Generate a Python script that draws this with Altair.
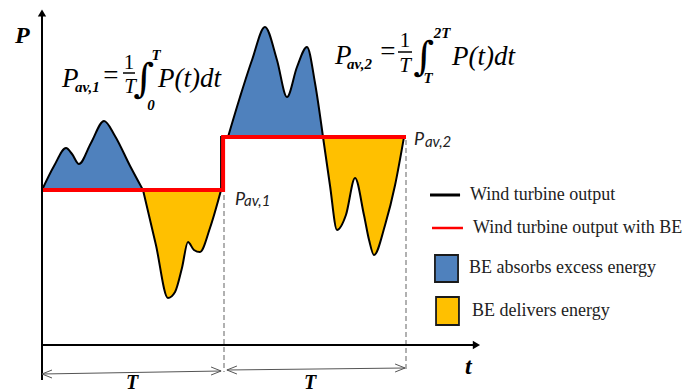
import altair as alt
import pandas as pd

# ---------------- data (t in units of T, P in arbitrary power units) ----------------
P_AV1 = 1.55
P_AV2 = 2.08

blue1_t = [0.0, 0.066, 0.132, 0.165, 0.203, 0.269, 0.341, 0.401, 0.484, 0.555]
blue1_p = [1.55, 1.79, 1.97, 1.91, 1.81, 2.02, 2.24, 2.09, 1.79, 1.55]

yellow1_t = [0.555, 0.626, 0.692, 0.731, 0.769, 0.802, 0.835, 0.868, 0.923, 0.984]
yellow1_p = [1.55, 1.00, 0.47, 0.53, 0.77, 1.03, 0.95, 0.93, 1.17, 1.55]

blue2_t = [1.022, 1.088, 1.154, 1.225, 1.291, 1.346, 1.401, 1.456, 1.500, 1.544]
blue2_p = [2.08, 2.48, 2.85, 3.18, 2.85, 2.48, 2.78, 2.98, 2.62, 2.08]

yellow2_t = [1.544, 1.582, 1.621, 1.670, 1.720, 1.769, 1.797, 1.824, 1.885, 1.940, 1.989]
yellow2_p = [2.08, 1.60, 1.15, 1.30, 1.67, 1.30, 1.05, 0.90, 1.20, 1.60, 2.08]

step_t = [0.984, 0.984, 1.022]
step_p = [1.55, 2.08, 2.08]

red_t = [0.0, 0.995, 0.995, 2.0]
red_p = [P_AV1, P_AV1, P_AV2, P_AV2]

segments = [
    ("b1", "absorb", blue1_t, blue1_p, P_AV1),
    ("y1", "deliver", yellow1_t, yellow1_p, P_AV1),
    ("b2", "absorb", blue2_t, blue2_p, P_AV2),
    ("y2", "deliver", yellow2_t, yellow2_p, P_AV2),
]
rows = []
for seg, kind, ts, ps, base in segments:
    for i, (t, p) in enumerate(zip(ts, ps)):
        rows.append(dict(seg=seg, kind=kind, t=t, P=p, base=base, i=i))
curve = pd.DataFrame(rows)

step = pd.DataFrame(dict(t=step_t, P=step_p, i=range(len(step_t))))
red = pd.DataFrame(dict(t=red_t, P=red_p, i=range(len(red_t))))

# axes (drawn by hand, in data units)
axes_rules = pd.DataFrame(dict(t=[0.0, 0.0], t2=[0.0, 2.387], P=[-0.35, 0.0], P2=[3.32, 0.0]))
arrow_up = pd.DataFrame(dict(t=[0.0], P=[3.32]))
arrow_right = pd.DataFrame(dict(t=[2.387], P=[0.0]))

dash = pd.DataFrame(dict(t=[1.0, 2.0], P=[1.50, 2.05], P2=[-0.27, -0.27]))

# period arrows (shaft + open heads)
per_t = [0.0, 0.0, 0.0, 0.984, 0.984, 1.016, 1.016, 1.016, 1.995, 1.995]
per_p = [-0.29, -0.29, -0.29, -0.26, -0.26, -0.25, -0.25, -0.25, -0.23, -0.23]
per_t2 = [0.984, 0.055, 0.055, 0.929, 0.929, 1.995, 1.071, 1.071, 1.940, 1.940]
per_p2 = [-0.26, -0.25, -0.33, -0.22, -0.30, -0.23, -0.21, -0.29, -0.19, -0.27]
period = pd.DataFrame(dict(t=per_t, P=per_p, t2=per_t2, P2=per_p2))

# legend
leg_lines = pd.DataFrame(dict(t=[2.132, 2.143], t2=[2.297, 2.313], P=[1.50, 1.17],
                              kind=["black", "red"]))
leg_boxes = pd.DataFrame(dict(t=[2.159, 2.165], t2=[2.286, 2.291], P=[0.90, 0.48], P2=[0.63, 0.20],
                              kind=["absorb", "deliver"]))
leg_text = pd.DataFrame(dict(
    t=[2.352, 2.368, 2.346, 2.363],
    P=[1.50, 1.17, 0.77, 0.34],
    label=["Wind turbine output", "Wind turbine output with BE",
           "BE absorbs excess energy", "BE delivers energy"]))

# formula pieces
big_italic = pd.DataFrame(dict(label=["P", "P(t)dt", "P", "P(t)dt"],
                               t=[0.110, 0.637, 1.610, 2.253], P=[2.58, 2.58, 2.81, 2.80]))
sub_bold = pd.DataFrame(dict(label=["av,1", "av,2"], t=[0.181, 1.676], P=[2.53, 2.76]))
equals = pd.DataFrame(dict(label=["=", "="], t=[0.379, 1.901], P=[2.61, 2.85]))
frac_num = pd.DataFrame(dict(label=["1", "1"], t=[0.478, 1.995], P=[2.76, 2.98]))
frac_den = pd.DataFrame(dict(label=["T", "T"], t=[0.484, 1.995], P=[2.52, 2.73]))
frac_bar = pd.DataFrame(dict(t=[0.445, 1.956], t2=[0.511, 2.033], P=[2.72, 2.93]))
integral = pd.DataFrame(dict(label=["∫", "∫"], t=[0.560, 2.098], P=[2.53, 2.75]))
limits = pd.DataFrame(dict(label=["T", "0", "2T", "T"],
                           t=[0.627, 0.599, 2.198, 2.121], P=[2.85, 2.35, 3.07, 2.62]))

pav_main = pd.DataFrame(dict(label=["P", "P"], t=[1.060, 2.044], P=[1.40, 2.00]))
pav_sub = pd.DataFrame(dict(label=["av,1", "av,2"], t=[1.110, 2.104], P=[1.39, 1.98]))

axis_labels = pd.DataFrame(dict(label=["P", "t"], t=[-0.148, 2.324], P=[3.02, -0.29]))
period_labels = pd.DataFrame(dict(label=["T", "T"], t=[0.495, 1.473], P=[-0.44, -0.44]))

# ---------------- chart ----------------
xs = alt.Scale(domain=[-34 / 182, 647 / 182], nice=False, zero=False)
ys = alt.Scale(domain=[-0.47, 3.37], nice=False, zero=False)
X = alt.X("t:Q", scale=xs, axis=None)
Y = alt.Y("P:Q", scale=ys, axis=None)
Y_ns = alt.Y("P:Q", scale=ys, axis=None, stack=None)

SERIF = "Liberation Serif"
BLUE = "#4F81BD"
GOLD = "#FFC000"


def texts(df, **kw):
    return alt.Chart(df).mark_text(**kw).encode(x=X, y=Y, text="label:N")


def fill_layer(kind, color):
    return alt.Chart(curve).transform_filter(alt.datum.kind == kind).mark_area(
        interpolate="monotone", opacity=1, color=color).encode(
        x=X, y=Y_ns, y2="base:Q", detail="seg:N")


areas_b = fill_layer("absorb", BLUE)
areas_y = fill_layer("deliver", GOLD)

lines = alt.Chart(curve).mark_line(interpolate="monotone", color="black", strokeWidth=2).encode(
    x=X, y=Y, detail="seg:N")

step_line = alt.Chart(step).mark_line(color="black", strokeWidth=2).encode(x=X, y=Y, order="i:Q")
red_line = alt.Chart(red).mark_line(color="#FF0000", strokeWidth=4, strokeJoin="miter").encode(
    x=X, y=Y, order="i:Q")

dashed = alt.Chart(dash).mark_rule(color="#888888", strokeWidth=1.3, strokeDash=[5, 3]).encode(
    x=X, y=Y, y2="P2:Q")

axis_lines = alt.Chart(axes_rules).mark_rule(color="black", strokeWidth=2).encode(
    x=X, x2="t2:Q", y=Y, y2="P2:Q")
arr_up = alt.Chart(arrow_up).mark_point(shape="triangle-up", filled=True, color="black",
                                        size=70, opacity=1).encode(x=X, y=Y)
arr_right = alt.Chart(arrow_right).mark_point(shape="triangle-right", filled=True, color="black",
                                              size=70, opacity=1).encode(x=X, y=Y)

period_arrows = alt.Chart(period).mark_rule(color="#555555", strokeWidth=1).encode(
    x=X, x2="t2:Q", y=Y, y2="P2:Q")

leg_black = alt.Chart(leg_lines).transform_filter(alt.datum.kind == "black").mark_rule(
    color="black", strokeWidth=3).encode(x=X, x2="t2:Q", y=Y)
leg_red = alt.Chart(leg_lines).transform_filter(alt.datum.kind == "red").mark_rule(
    color="#FF0000", strokeWidth=2.5).encode(x=X, x2="t2:Q", y=Y)
leg_bb = alt.Chart(leg_boxes).transform_filter(alt.datum.kind == "absorb").mark_rect(
    stroke="#1a1a1a", strokeWidth=1.8, color=BLUE, opacity=1).encode(x=X, x2="t2:Q", y=Y, y2="P2:Q")
leg_by = alt.Chart(leg_boxes).transform_filter(alt.datum.kind == "deliver").mark_rect(
    stroke="#1a1a1a", strokeWidth=1.8, color=GOLD, opacity=1).encode(x=X, x2="t2:Q", y=Y, y2="P2:Q")
leg_t = texts(leg_text, font=SERIF, fontSize=18, align="left", baseline="middle", color="#222222")

f_big = texts(big_italic, font=SERIF, fontSize=27, fontStyle="italic", align="left",
              baseline="alphabetic", color="black")
f_sub = texts(sub_bold, font=SERIF, fontSize=15, fontStyle="italic", fontWeight="bold",
              align="left", baseline="alphabetic", color="black")
f_eq = texts(equals, font=SERIF, fontSize=27, align="center", baseline="alphabetic", color="black")
f_num = texts(frac_num, font=SERIF, fontSize=21, align="center", baseline="alphabetic", color="black")
f_den = texts(frac_den, font=SERIF, fontSize=21, fontStyle="italic", align="center",
              baseline="alphabetic", color="black")
f_bar = alt.Chart(frac_bar).mark_rule(color="black", strokeWidth=1.5).encode(x=X, x2="t2:Q", y=Y)
f_int = texts(integral, font="DejaVu Serif", fontSize=40, fontStyle="italic", align="center",
              baseline="alphabetic", color="black")
f_lim = texts(limits, font=SERIF, fontSize=15, fontStyle="italic", fontWeight="bold",
              align="center", baseline="alphabetic", color="black")

p_main = texts(pav_main, font="Lato", fontSize=18, fontStyle="italic", align="left",
               baseline="alphabetic", color="#222222")
p_sub = texts(pav_sub, font="Lato", fontSize=15, fontStyle="italic", align="left",
              baseline="alphabetic", color="#222222")

ax_lab = texts(axis_labels, font=SERIF, fontSize=24, fontStyle="italic", fontWeight="bold",
               align="left", baseline="alphabetic", color="black")
per_lab = texts(period_labels, font=SERIF, fontSize=20, fontStyle="italic", fontWeight="bold",
                align="center", baseline="alphabetic", color="black")

chart = alt.layer(
    dashed, areas_b, areas_y, lines, step_line, red_line, axis_lines, arr_up, arr_right,
    period_arrows, leg_black, leg_red, leg_bb, leg_by, leg_t,
    f_big, f_sub, f_eq, f_num, f_den, f_bar, f_int, f_lim,
    p_main, p_sub, ax_lab, per_lab
).properties(
    width=681, height=384, padding=0, autosize="none", background="white"
).configure_view(stroke=None)

chart.save("out.html", embed_options={"renderer": "svg", "actions": False})
